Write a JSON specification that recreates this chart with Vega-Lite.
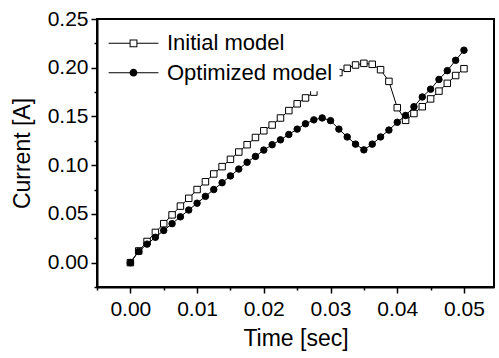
{
  "$schema": "https://vega.github.io/schema/vega-lite/v6.json",
  "width": 397,
  "height": 268,
  "autosize": {"type": "none"},
  "padding": {"left": 97, "top": 19, "right": 5, "bottom": 71},
  "background": "white",
  "config": {
    "view": {"stroke": "black", "strokeWidth": 2},
    "font": "Liberation Sans",
    "legend": {
      "orient": "none", "legendX": 18.5, "legendY": 6.3,
      "title": null,
      "labelFontSize": 22, "labelColor": "black", "labelFont": "Liberation Sans", "labelLimit": 400,
      "symbolSize": 36, "labelOffset": 22.5, "rowPadding": 7.4, "padding": 7,
      "fillColor": "white", "zindex": 1,
      "symbolFillColor": "black", "symbolOpacity": 1
    }
  },
  "data": {"values": [
    {"t": 0, "v": 0, "s": "Initial model"},
    {"t": 0.00125, "v": 0.012, "s": "Initial model"},
    {"t": 0.0025, "v": 0.0217, "s": "Initial model"},
    {"t": 0.00375, "v": 0.031, "s": "Initial model"},
    {"t": 0.005, "v": 0.040, "s": "Initial model"},
    {"t": 0.00625, "v": 0.049, "s": "Initial model"},
    {"t": 0.0075, "v": 0.058, "s": "Initial model"},
    {"t": 0.00875, "v": 0.066, "s": "Initial model"},
    {"t": 0.01, "v": 0.075, "s": "Initial model"},
    {"t": 0.01125, "v": 0.083, "s": "Initial model"},
    {"t": 0.0125, "v": 0.091, "s": "Initial model"},
    {"t": 0.01375, "v": 0.0985, "s": "Initial model"},
    {"t": 0.015, "v": 0.106, "s": "Initial model"},
    {"t": 0.01625, "v": 0.1135, "s": "Initial model"},
    {"t": 0.0175, "v": 0.121, "s": "Initial model"},
    {"t": 0.01875, "v": 0.1284, "s": "Initial model"},
    {"t": 0.02, "v": 0.1353, "s": "Initial model"},
    {"t": 0.02125, "v": 0.1412, "s": "Initial model"},
    {"t": 0.0225, "v": 0.1484, "s": "Initial model"},
    {"t": 0.02375, "v": 0.156, "s": "Initial model"},
    {"t": 0.025, "v": 0.163, "s": "Initial model"},
    {"t": 0.02625, "v": 0.169, "s": "Initial model"},
    {"t": 0.0275, "v": 0.175, "s": "Initial model"},
    {"t": 0.02875, "v": 0.182, "s": "Initial model"},
    {"t": 0.03, "v": 0.189, "s": "Initial model"},
    {"t": 0.03125, "v": 0.195, "s": "Initial model"},
    {"t": 0.0325, "v": 0.1994, "s": "Initial model"},
    {"t": 0.03375, "v": 0.2028, "s": "Initial model"},
    {"t": 0.035, "v": 0.2045, "s": "Initial model"},
    {"t": 0.03625, "v": 0.2035, "s": "Initial model"},
    {"t": 0.0375, "v": 0.198, "s": "Initial model"},
    {"t": 0.03875, "v": 0.186, "s": "Initial model"},
    {"t": 0.04, "v": 0.159, "s": "Initial model"},
    {"t": 0.04125, "v": 0.146, "s": "Initial model"},
    {"t": 0.0425, "v": 0.153, "s": "Initial model"},
    {"t": 0.04375, "v": 0.160, "s": "Initial model"},
    {"t": 0.045, "v": 0.168, "s": "Initial model"},
    {"t": 0.04625, "v": 0.176, "s": "Initial model"},
    {"t": 0.0475, "v": 0.184, "s": "Initial model"},
    {"t": 0.04875, "v": 0.192, "s": "Initial model"},
    {"t": 0.05, "v": 0.199, "s": "Initial model"},
    {"t": 0, "v": 0, "s": "Optimized model"},
    {"t": 0.00125, "v": 0.0115, "s": "Optimized model"},
    {"t": 0.0025, "v": 0.019, "s": "Optimized model"},
    {"t": 0.00375, "v": 0.026, "s": "Optimized model"},
    {"t": 0.005, "v": 0.033, "s": "Optimized model"},
    {"t": 0.00625, "v": 0.040, "s": "Optimized model"},
    {"t": 0.0075, "v": 0.047, "s": "Optimized model"},
    {"t": 0.00875, "v": 0.054, "s": "Optimized model"},
    {"t": 0.01, "v": 0.061, "s": "Optimized model"},
    {"t": 0.01125, "v": 0.068, "s": "Optimized model"},
    {"t": 0.0125, "v": 0.075, "s": "Optimized model"},
    {"t": 0.01375, "v": 0.082, "s": "Optimized model"},
    {"t": 0.015, "v": 0.089, "s": "Optimized model"},
    {"t": 0.01625, "v": 0.096, "s": "Optimized model"},
    {"t": 0.0175, "v": 0.103, "s": "Optimized model"},
    {"t": 0.01875, "v": 0.109, "s": "Optimized model"},
    {"t": 0.02, "v": 0.1155, "s": "Optimized model"},
    {"t": 0.02125, "v": 0.121, "s": "Optimized model"},
    {"t": 0.0225, "v": 0.126, "s": "Optimized model"},
    {"t": 0.02375, "v": 0.1315, "s": "Optimized model"},
    {"t": 0.025, "v": 0.137, "s": "Optimized model"},
    {"t": 0.02625, "v": 0.1425, "s": "Optimized model"},
    {"t": 0.0275, "v": 0.1465, "s": "Optimized model"},
    {"t": 0.02875, "v": 0.1485, "s": "Optimized model"},
    {"t": 0.03, "v": 0.1457, "s": "Optimized model"},
    {"t": 0.03125, "v": 0.137, "s": "Optimized model"},
    {"t": 0.0325, "v": 0.129, "s": "Optimized model"},
    {"t": 0.03375, "v": 0.1216, "s": "Optimized model"},
    {"t": 0.035, "v": 0.1157, "s": "Optimized model"},
    {"t": 0.03625, "v": 0.1216, "s": "Optimized model"},
    {"t": 0.0375, "v": 0.129, "s": "Optimized model"},
    {"t": 0.03875, "v": 0.136, "s": "Optimized model"},
    {"t": 0.04, "v": 0.144, "s": "Optimized model"},
    {"t": 0.04125, "v": 0.151, "s": "Optimized model"},
    {"t": 0.0425, "v": 0.160, "s": "Optimized model"},
    {"t": 0.04375, "v": 0.170, "s": "Optimized model"},
    {"t": 0.045, "v": 0.178, "s": "Optimized model"},
    {"t": 0.04625, "v": 0.188, "s": "Optimized model"},
    {"t": 0.0475, "v": 0.197, "s": "Optimized model"},
    {"t": 0.04875, "v": 0.2076, "s": "Optimized model"},
    {"t": 0.05, "v": 0.218, "s": "Optimized model"}
  ]},
  "encoding": {
    "x": {
      "field": "t", "type": "quantitative",
      "scale": {"domain": [-0.005, 0.0545], "nice": false, "zero": false},
      "axis": {
        "title": "Time [sec]",
        "values": [-0.005, 0, 0.005, 0.01, 0.015, 0.02, 0.025, 0.03, 0.035, 0.04, 0.045, 0.05],
        "format": ".2f",
        "labelExpr": "abs(datum.value*100-round(datum.value*100))<0.001 && datum.value>=0 ? datum.label : ''",
        "tickSize": {"condition": {"test": "abs(datum.value*100-round(datum.value*100))<0.001", "value": 6}, "value": 3},
        "grid": false,
        "domainColor": "black", "domainWidth": 2,
        "tickColor": "black", "tickWidth": 1.5,
        "labelFontSize": 21, "labelColor": "black", "labelPadding": 5,
        "labelFlush": false, "labelOverlap": false, "labelBound": false,
        "titleFontSize": 23, "titleFontWeight": "normal", "titleColor": "black", "titlePadding": 8
      }
    },
    "y": {
      "field": "v", "type": "quantitative",
      "scale": {"domain": [-0.025, 0.25], "nice": false, "zero": false},
      "axis": {
        "title": "Current [A]",
        "values": [-0.025, 0, 0.025, 0.05, 0.075, 0.1, 0.125, 0.15, 0.175, 0.2, 0.225, 0.25],
        "format": ".2f",
        "labelExpr": "abs(datum.value*20-round(datum.value*20))<0.001 ? datum.label : ''",
        "tickSize": {"condition": {"test": "abs(datum.value*20-round(datum.value*20))<0.001", "value": 6}, "value": 3},
        "grid": false,
        "domainColor": "black", "domainWidth": 2,
        "tickColor": "black", "tickWidth": 1.5,
        "labelFontSize": 21, "labelColor": "black", "labelPadding": 3,
        "labelFlush": false, "labelOverlap": false, "labelBound": false,
        "titleFontSize": 23, "titleFontWeight": "normal", "titleColor": "black", "titlePadding": 13
      }
    }
  },
  "layer": [
    {
      "transform": [{"filter": "datum.s === 'Initial model'"}],
      "mark": {"type": "line", "color": "black", "strokeWidth": 1},
      "encoding": {"order": {"field": "t"}}
    },
    {
      "transform": [{"filter": "datum.s === 'Initial model'"}],
      "mark": {"type": "point", "shape": "square", "filled": true, "fill": "white", "stroke": "black", "strokeWidth": 1, "size": 42, "opacity": 1}
    },
    {
      "transform": [{"filter": "datum.s === 'Optimized model'"}],
      "mark": {"type": "line", "color": "black", "strokeWidth": 1},
      "encoding": {"order": {"field": "t"}}
    },
    {
      "transform": [{"filter": "datum.s === 'Optimized model'"}],
      "mark": {"type": "point", "shape": "circle", "filled": true, "fill": "black", "stroke": "black", "strokeWidth": 1, "size": 42, "opacity": 1}
    },
    {
      "transform": [{"filter": "datum.t > 1"}],
      "mark": {"type": "point", "filled": true, "fill": "black", "strokeWidth": 0, "size": 36, "opacity": 1},
      "encoding": {
        "shape": {
          "field": "s", "type": "nominal",
          "scale": {"domain": ["Initial model", "Optimized model"], "range": [
            "M-8.3,-0.17H-1.3V0.17H-8.3ZM1.3,-0.17H8.3V0.17H1.3ZM-1.3,-1.3H1.3V1.3H-1.3ZM-0.97,-0.97V0.97H0.97V-0.97Z",
            "M-8.3,-0.17H-1.2V0.17H-8.3ZM1.2,-0.17H8.3V0.17H1.2ZM-1.3,0A1.3,1.3,0,1,1,1.3,0A1.3,1.3,0,1,1,-1.3,0Z"
          ]}
        }
      }
    }
  ]
}
